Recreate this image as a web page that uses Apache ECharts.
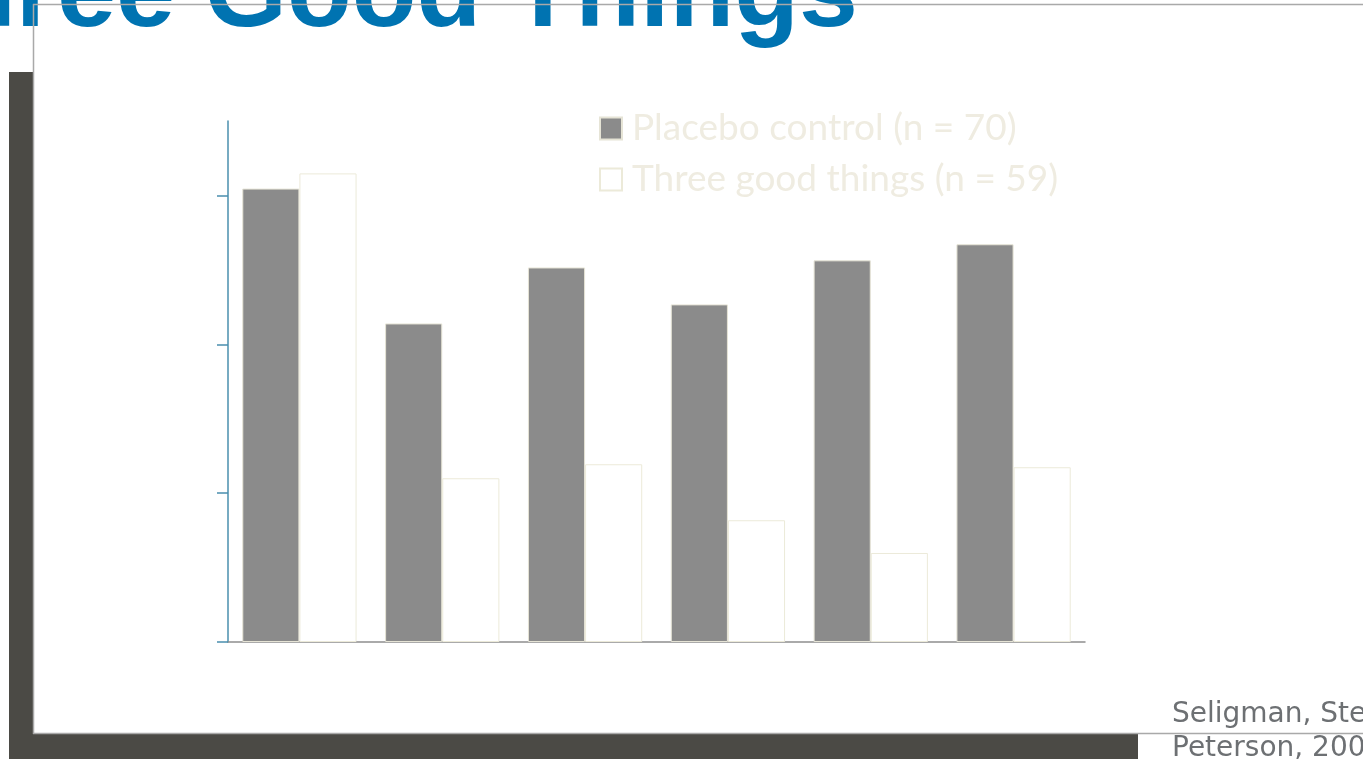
<!DOCTYPE html>
<html>
<head>
<meta charset="utf-8">
<title>Three Good Things</title>
<script src="https://cdn.jsdelivr.net/npm/echarts@6/dist/echarts.min.js"></script>
<style>
  html, body { margin: 0; padding: 0; background: #ffffff; }
  #chart { width: 1363px; height: 759px; }
</style>
</head>
<body>
<div id="chart"></div>
<script>
// Assessment points (axis labels are hidden on the slide)
const categories = ['Pretest', 'Posttest', '1 week', '1 month', '3 months', '6 months'];

// Group means per assessment
const placeboValues = [15.23, 10.70, 12.58, 11.34, 12.82, 13.36];
const threeGoodThingsValues = [15.74, 5.50, 5.97, 4.09, 2.99, 5.87];

// Tick marks on the value axis
const yTickValues = [0, 5, 10, 15];

const seriesNames = ['Placebo control (n = 70)', 'Three good things (n = 59)'];

const chart = echarts.init(document.getElementById('chart'), null, { renderer: 'canvas' });

const frameColor = '#4b4a45';
const borderColor = '#a9a9a9';

chart.setOption({
  animation: false,
  backgroundColor: '#ffffff',
  graphic: [
    // drop shadow strips of the slide frame
    { type: 'rect', z: 0, shape: { x: 9, y: 72, width: 25, height: 687 }, style: { fill: frameColor } },
    { type: 'rect', z: 0, shape: { x: 9, y: 734, width: 1129, height: 25 }, style: { fill: frameColor } },
    // white panel
    { type: 'rect', z: 0, shape: { x: 34, y: 5, width: 1329, height: 728 }, style: { fill: '#ffffff' } },
    // slide title
    {
      type: 'text', z: 1, x: 858, y: -3,
      style: {
        text: 'Three Good Things',
        fill: '#0073b1',
        font: 'bold 106px "Liberation Sans", Arial, sans-serif',
        align: 'right',
        verticalAlign: 'middle'
      }
    },
    // panel border
    { type: 'line', z: 2, shape: { x1: 33, y1: 4.5, x2: 1363, y2: 4.5 }, style: { stroke: borderColor, lineWidth: 1.5 } },
    { type: 'line', z: 2, shape: { x1: 33.5, y1: 4, x2: 33.5, y2: 734 }, style: { stroke: borderColor, lineWidth: 1.5 } },
    { type: 'line', z: 2, shape: { x1: 33, y1: 733.5, x2: 1363, y2: 733.5 }, style: { stroke: borderColor, lineWidth: 1.5 } },
    // source citation
    {
      type: 'text', z: 3, x: 1172, y: 715,
      style: {
        text: 'Seligman, Steen, Park, &',
        fill: '#6d7073',
        font: '28px "DejaVu Sans", sans-serif',
        align: 'left',
        verticalAlign: 'middle'
      }
    },
    {
      type: 'text', z: 3, x: 1172, y: 749,
      style: {
        text: 'Peterson, 2005',
        fill: '#6d7073',
        font: '28px "DejaVu Sans", sans-serif',
        align: 'left',
        verticalAlign: 'middle'
      }
    }
  ],
  legend: {
    orient: 'vertical',
    left: 599,
    top: 110,
    padding: 0,
    itemWidth: 22,
    itemHeight: 22,
    itemGap: 14,
    itemTextGap: 10,
    icon: 'rect',
    data: seriesNames,
    textStyle: {
      color: '#efece1',
      fontFamily: 'Lato, "Open Sans", sans-serif',
      fontSize: 37,
      lineHeight: 36,
      padding: [0, 0, 0, 5]
    }
  },
  grid: {
    left: 228,
    right: 278,
    top: 121,
    bottom: 117,
    containLabel: false
  },
  xAxis: {
    type: 'category',
    data: categories,
    axisLine: { show: true, lineStyle: { color: '#8f8f8f', width: 1.5 } },
    axisTick: { show: false },
    axisLabel: { show: false },
    splitLine: { show: false }
  },
  yAxis: {
    type: 'value',
    min: 0,
    max: 17.5,
    interval: 5,
    axisLine: { show: true, lineStyle: { color: '#4a8fae', width: 1.5 } },
    axisTick: {
      show: true,
      length: 11,
      customValues: yTickValues,
      lineStyle: { color: '#4a8fae', width: 1.5 }
    },
    axisLabel: { show: false },
    splitLine: { show: false }
  },
  series: [
    {
      name: seriesNames[0],
      type: 'bar',
      data: placeboValues,
      barWidth: '40%',
      barGap: '0%',
      itemStyle: { color: '#8b8b8b', borderColor: '#e6e4d6', borderWidth: 1 }
    },
    {
      name: seriesNames[1],
      type: 'bar',
      data: threeGoodThingsValues,
      barWidth: '40%',
      barGap: '0%',
      itemStyle: { color: '#ffffff', borderColor: '#ecead9', borderWidth: 1 }
    }
  ]
});
</script>
</body>
</html>
